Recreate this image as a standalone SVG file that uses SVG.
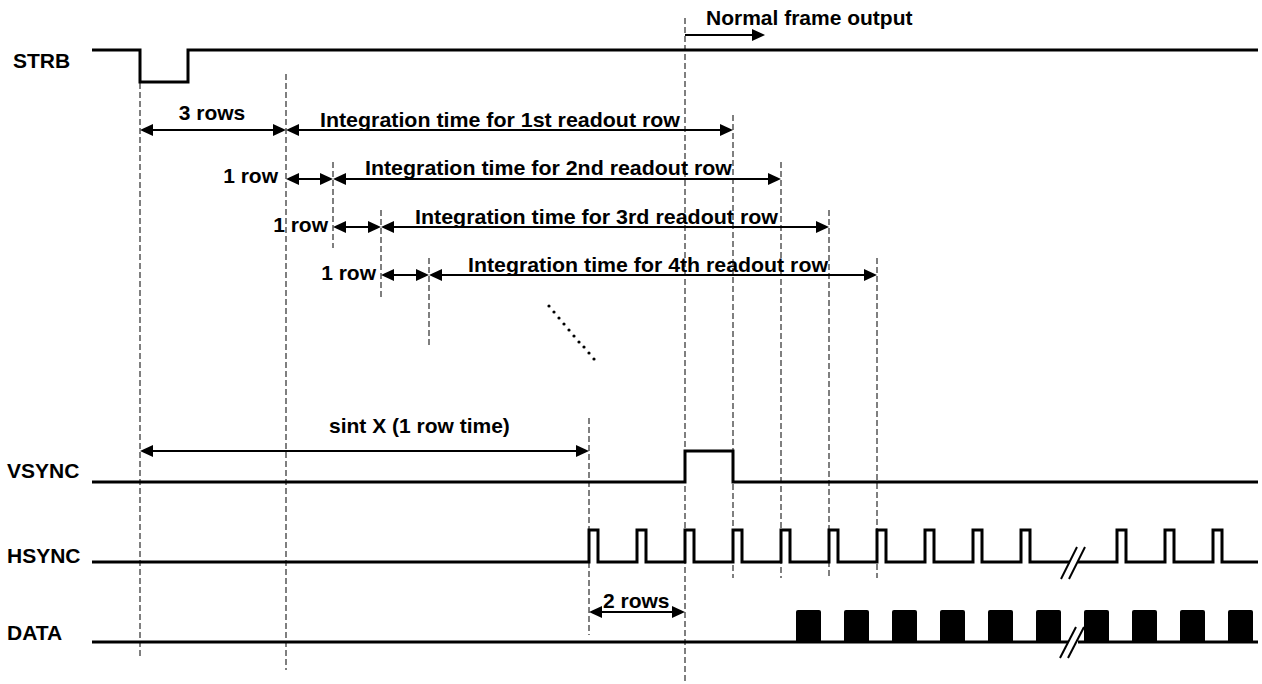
<svg xmlns="http://www.w3.org/2000/svg" width="1262" height="684" viewBox="0 0 1262 684">
<style>
  text { font-family: "Liberation Sans", Arial, sans-serif; font-weight: bold; font-size: 21px; fill: #000; }
  .sig { fill: none; stroke: #000; stroke-width: 3; stroke-linejoin: miter; }
  .dash { fill: none; stroke: #555; stroke-width: 1.5; stroke-dasharray: 6 3; }
  .arr { fill: none; stroke: #000; stroke-width: 2; marker-start: url(#ah); marker-end: url(#ah); }
  .arr1 { fill: none; stroke: #000; stroke-width: 2; marker-end: url(#ah); }
  .slash { fill: none; stroke: #000; stroke-width: 2; }
  .blk { fill: #000; }
</style>
<defs>
  <marker id="ah" markerUnits="userSpaceOnUse" markerWidth="14" markerHeight="12" refX="9" refY="6" orient="auto-start-reverse">
    <path d="M0,0 L13,6 L0,12 z" fill="#000"/>
  </marker>
</defs>
<rect width="1262" height="684" fill="#fff"/>

<g id="guides">
  <line class="dash" x1="140" y1="83" x2="140" y2="656"/>
  <line class="dash" x1="286" y1="74" x2="286" y2="670"/>
  <line class="dash" x1="333" y1="162" x2="333" y2="248"/>
  <line class="dash" x1="381" y1="210" x2="381" y2="298"/>
  <line class="dash" x1="429" y1="258" x2="429" y2="345"/>
  <line class="dash" x1="589" y1="418" x2="589" y2="635"/>
  <line class="dash" x1="685" y1="18" x2="685" y2="688"/>
  <line class="dash" x1="733" y1="115" x2="733" y2="578"/>
  <line class="dash" x1="781" y1="162" x2="781" y2="578"/>
  <line class="dash" x1="829" y1="210" x2="829" y2="578"/>
  <line class="dash" x1="877" y1="258" x2="877" y2="578"/>
</g>

<g id="strb">
  <text x="13" y="68">STRB</text>
  <path class="sig" d="M92,50 H140 V82 H188 V50 H1258"/>
</g>

<g id="vsync">
  <text x="7" y="478">VSYNC</text>
  <path class="sig" d="M92,482 H685 V451 H733 V482 H1258"/>
</g>

<g id="hsync">
  <text x="7" y="563">HSYNC</text>
  <path class="sig" d="M92,562 H589 V530 H598 V562 H637 V530 H646 V562 H685 V530 H694 V562 H733 V530 H742 V562 H781 V530 H790 V562 H829 V530 H838 V562 H877 V530 H886 V562 H925 V530 H934 V562 H973 V530 H982 V562 H1021 V530 H1030 V562 H1070"/>
  <path class="sig" d="M1078,562 H1117 V530 H1126 V562 H1165 V530 H1174 V562 H1213 V530 H1222 V562 H1258"/>
  <line class="slash" x1="1061" y1="579" x2="1077" y2="547"/>
  <line class="slash" x1="1069" y1="579" x2="1085" y2="547"/>
</g>

<g id="data">
  <text x="7" y="640">DATA</text>
  <path class="sig" d="M92,642 H1068"/>
  <path class="sig" d="M1078,642 H1258"/>
  <rect class="blk" x="796" y="610" width="25" height="33" rx="2"/>
  <rect class="blk" x="844" y="610" width="25" height="33" rx="2"/>
  <rect class="blk" x="892" y="610" width="25" height="33" rx="2"/>
  <rect class="blk" x="940" y="610" width="25" height="33" rx="2"/>
  <rect class="blk" x="988" y="610" width="25" height="33" rx="2"/>
  <rect class="blk" x="1036" y="610" width="25" height="33" rx="2"/>
  <rect class="blk" x="1084" y="610" width="25" height="33" rx="2"/>
  <rect class="blk" x="1132" y="610" width="25" height="33" rx="2"/>
  <rect class="blk" x="1180" y="610" width="25" height="33" rx="2"/>
  <rect class="blk" x="1228" y="610" width="25" height="33" rx="2"/>
  <line class="slash" x1="1060" y1="658" x2="1076" y2="627"/>
  <line class="slash" x1="1068" y1="658" x2="1084" y2="627"/>
</g>

<g id="connectors">
  <line class="arr1" x1="685" y1="35" x2="761" y2="35"/>
  <line class="arr" x1="144" y1="130" x2="282" y2="130"/>
  <line class="arr" x1="290" y1="130" x2="729" y2="130"/>
  <line class="arr" x1="290" y1="179" x2="329" y2="179"/>
  <line class="arr" x1="337" y1="179" x2="777" y2="179"/>
  <line class="arr" x1="337" y1="227" x2="377" y2="227"/>
  <line class="arr" x1="385" y1="227" x2="825" y2="227"/>
  <line class="arr" x1="385" y1="275" x2="425" y2="275"/>
  <line class="arr" x1="433" y1="275" x2="873" y2="275"/>
  <line class="arr" x1="144" y1="451" x2="585" y2="451"/>
  <line class="arr" x1="593" y1="612" x2="681" y2="612"/>
</g>

<g id="dots" fill="#000">
  <circle cx="549" cy="306" r="1.6"/>
  <circle cx="554" cy="312" r="1.6"/>
  <circle cx="559" cy="318" r="1.6"/>
  <circle cx="564" cy="324" r="1.6"/>
  <circle cx="569" cy="330" r="1.6"/>
  <circle cx="574" cy="336" r="1.6"/>
  <circle cx="579" cy="342" r="1.6"/>
  <circle cx="584" cy="347" r="1.6"/>
  <circle cx="589" cy="353" r="1.6"/>
  <circle cx="594" cy="359" r="1.6"/>
</g>

<g id="labels">
  <text x="706" y="25">Normal frame output</text>
  <text x="212" y="120" text-anchor="middle">3 rows</text>
  <text x="320" y="127" textLength="360" lengthAdjust="spacingAndGlyphs">Integration time for 1st readout row</text>
  <text x="278" y="183" text-anchor="end">1 row</text>
  <text x="365" y="175" textLength="367" lengthAdjust="spacingAndGlyphs">Integration time for 2nd readout row</text>
  <text x="328" y="232" text-anchor="end">1 row</text>
  <text x="415" y="224" textLength="363" lengthAdjust="spacingAndGlyphs">Integration time for 3rd readout row</text>
  <text x="376" y="280" text-anchor="end">1 row</text>
  <text x="468" y="272" textLength="360" lengthAdjust="spacingAndGlyphs">Integration time for 4th readout row</text>
  <text x="329" y="433">sint X (1 row time)</text>
  <text x="603" y="608">2 rows</text>
</g>
</svg>
